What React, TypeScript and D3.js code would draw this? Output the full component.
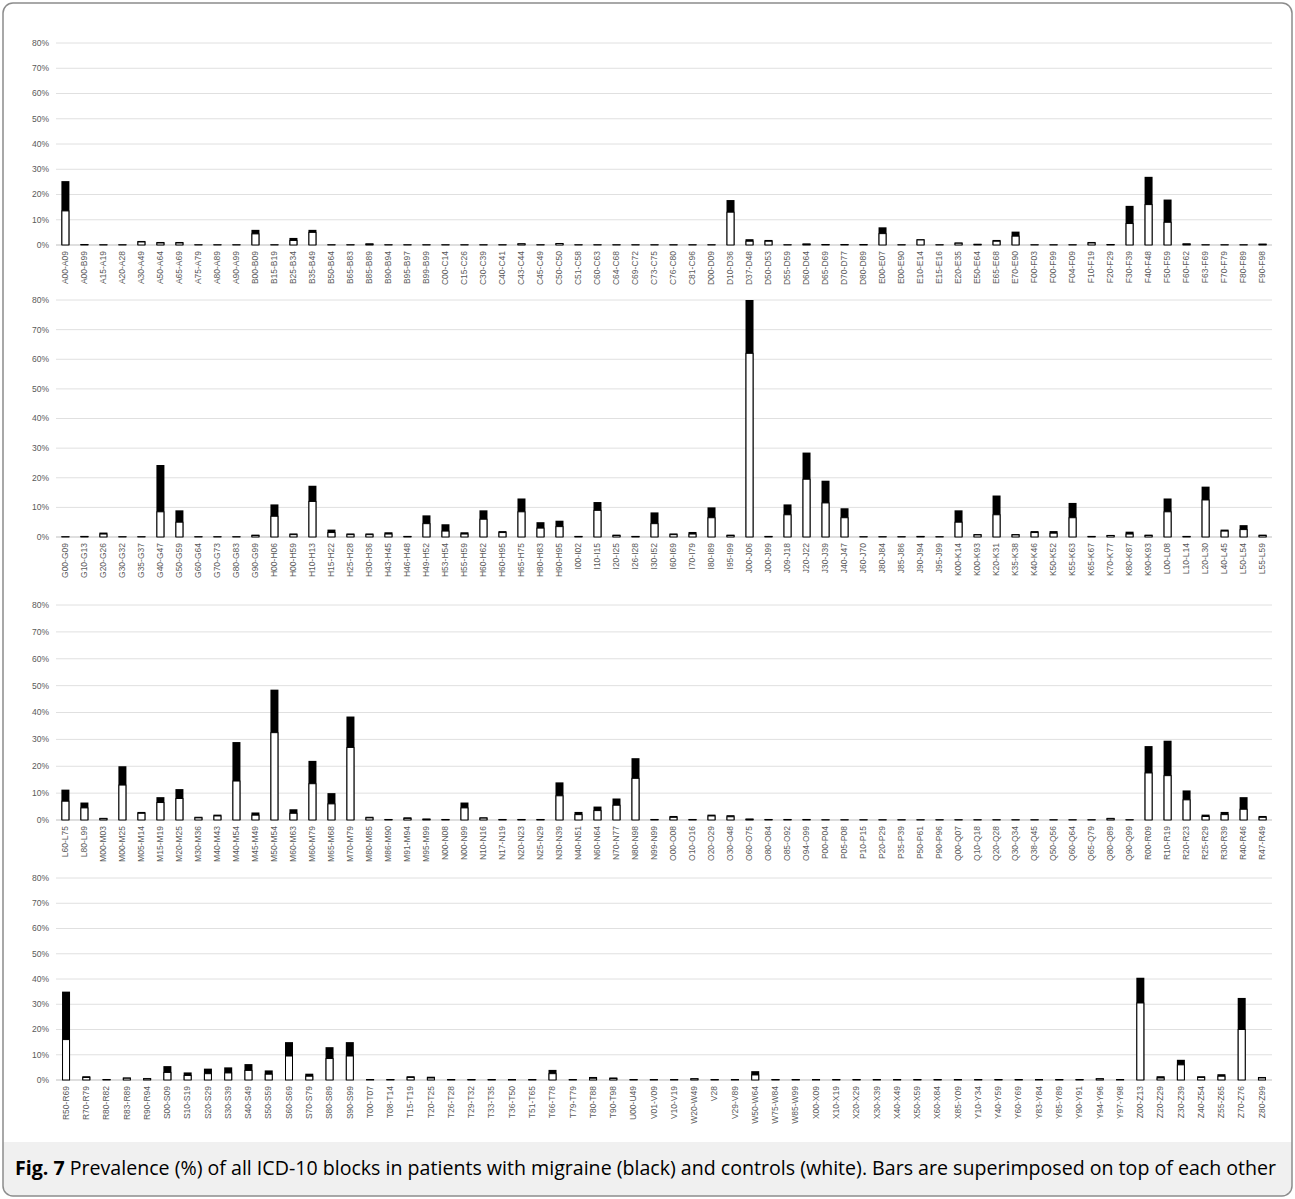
import React from "react";
import * as d3 from "d3";

// ICD-10 blocks, one array per panel
const cats1 = ["A00-A09","A00-B99","A15-A19","A20-A28","A30-A49","A50-A64","A65-A69","A75-A79","A80-A89","A90-A99","B00-B09","B15-B19","B25-B34","B35-B49","B50-B64","B65-B83","B85-B89","B90-B94","B95-B97","B99-B99","C00-C14","C15-C26","C30-C39","C40-C41","C43-C44","C45-C49","C50-C50","C51-C58","C60-C63","C64-C68","C69-C72","C73-C75","C76-C80","C81-C96","D00-D09","D10-D36","D37-D48","D50-D53","D55-D59","D60-D64","D65-D69","D70-D77","D80-D89","E00-E07","E00-E90","E10-E14","E15-E16","E20-E35","E50-E64","E65-E68","E70-E90","F00-F03","F00-F99","F04-F09","F10-F19","F20-F29","F30-F39","F40-F48","F50-F59","F60-F62","F63-F69","F70-F79","F80-F89","F90-F98"];
const migraine1 = [25.3,0.3,0.2,0.2,1.6,1.2,1.2,0.2,0.2,0.2,6,0.2,2.8,6,0.2,0.2,0.6,0.2,0.2,0.2,0.2,0.2,0.2,0.2,0.6,0.2,0.7,0.2,0.2,0.2,0.2,0.2,0.2,0.2,0.2,17.8,2.3,2,0.2,0.5,0.3,0.3,0.3,7,0.2,2.3,0.2,1,0.4,2,5.3,0.2,0.2,0.2,1.2,0.3,15.5,27,18,0.6,0.2,0.2,0.2,0.5];
const controls1 = [13.5,0.2,0.1,0.1,1.2,0.8,0.8,0.1,0.1,0.1,4.4,0.1,1.8,5,0.1,0.1,0.4,0.1,0.1,0.1,0.1,0.1,0.1,0.1,0.5,0.1,0.6,0.1,0.1,0.1,0.1,0.1,0.1,0.1,0.1,13,1.5,1.5,0.1,0.4,0.2,0.2,0.2,4.5,0.1,2,0.1,0.7,0.3,1.5,3.5,0.1,0.1,0.1,0.8,0.2,8.5,16,9,0.4,0.1,0.1,0.1,0.3];

const cats2 = ["G00-G09","G10-G13","G20-G26","G30-G32","G35-G37","G40-G47","G50-G59","G60-G64","G70-G73","G80-G83","G90-G99","H00-H06","H00-H59","H10-H13","H15-H22","H25-H28","H30-H36","H43-H45","H46-H48","H49-H52","H53-H54","H55-H59","H60-H62","H60-H95","H65-H75","H80-H83","H90-H95","I00-I02","I10-I15","I20-I25","I26-I28","I30-I52","I60-I69","I70-I79","I80-I89","I95-I99","J00-J06","J00-J99","J09-J18","J20-J22","J30-J39","J40-J47","J60-J70","J80-J84","J85-J86","J90-J94","J95-J99","K00-K14","K00-K93","K20-K31","K35-K38","K40-K46","K50-K52","K55-K63","K65-K67","K70-K77","K80-K87","K90-K93","L00-L08","L10-L14","L20-L30","L40-L45","L50-L54","L55-L59"];
const migraine2 = [0.2,0.3,1.5,0.2,0.2,24.3,9,0.2,0.2,0.2,0.8,11,1.2,17.3,2.5,1.2,1.2,1.6,0.3,7.3,4.3,1.6,9,2,13,5,5.5,0.3,11.8,0.8,0.3,8.3,1.2,1.7,10,0.8,80,0.3,11,28.5,19,9.7,0.2,0.2,0.2,0.3,0.2,9,1,14,1,2,2,11.5,0.3,0.7,1.8,0.8,13,0.3,17,2.5,4,0.8];
const controls2 = [0.1,0.2,1,0.1,0.1,8.5,5,0.1,0.1,0.1,0.5,7,0.8,12,1.5,0.8,0.8,1,0.2,4.5,2,1,6,1.5,8.5,3,3.5,0.2,9,0.5,0.2,4.5,0.8,1,6.5,0.5,62,0.2,7.5,19.5,11.5,6.5,0.1,0.1,0.1,0.2,0.1,5,0.7,7.5,0.7,1.5,1.3,6.5,0.2,0.5,1,0.5,8.5,0.2,12.5,2,2.5,0.5];

const cats3 = ["L60-L75","L80-L99","M00-M03","M00-M25","M05-M14","M15-M19","M20-M25","M30-M36","M40-M43","M40-M54","M45-M49","M50-M54","M60-M63","M60-M79","M65-M68","M70-M79","M80-M85","M86-M90","M91-M94","M95-M99","N00-N08","N00-N99","N10-N16","N17-N19","N20-N23","N25-N29","N30-N39","N40-N51","N60-N64","N70-N77","N80-N98","N99-N99","O00-O08","O10-O16","O20-O29","O30-O48","O60-O75","O80-O84","O85-O92","O94-O99","P00-P04","P05-P08","P10-P15","P20-P29","P35-P39","P50-P61","P90-P96","Q00-Q07","Q10-Q18","Q20-Q28","Q30-Q34","Q38-Q45","Q50-Q56","Q60-Q64","Q65-Q79","Q80-Q89","Q90-Q99","R00-R09","R10-R19","R20-R23","R25-R29","R30-R39","R40-R46","R47-R49"];
const migraine3 = [11.3,6.5,0.8,20,3,8.5,11.5,1.2,2,29,2.8,48.5,4,22,10,38.5,1.2,0.3,1,0.5,0.3,6.5,1,0.3,0.3,0.3,14,3,5,8,23,0.3,1.5,0.3,2,1.8,0.5,0.3,0.3,0.3,0.2,0.2,0.2,0.2,0.2,0.2,0.2,0.2,0.2,0.2,0.2,0.2,0.2,0.2,0.2,0.8,0.2,27.5,29.5,11,2,3,8.5,1.5];
const controls3 = [7,4.5,0.5,13,2.5,6.5,8,0.8,1.5,14.5,1.8,32.5,2.5,13.5,6,27,0.8,0.2,0.6,0.3,0.2,4.5,0.7,0.2,0.2,0.2,9,2,3.5,5.5,15.5,0.2,1,0.2,1.5,1.2,0.3,0.2,0.2,0.2,0.1,0.1,0.1,0.1,0.1,0.1,0.1,0.1,0.1,0.1,0.1,0.1,0.1,0.1,0.1,0.5,0.1,17.5,16.5,7.5,1.3,2,4,1];

const cats4 = ["R50-R69","R70-R79","R80-R82","R83-R89","R90-R94","S00-S09","S10-S19","S20-S29","S30-S39","S40-S49","S50-S59","S60-S69","S70-S79","S80-S89","S90-S99","T00-T07","T08-T14","T15-T19","T20-T25","T26-T28","T29-T32","T33-T35","T36-T50","T51-T65","T66-T78","T79-T79","T80-T88","T90-T98","U00-U49","V01-V09","V10-V19","W20-W49","V28","V29-V89","W50-W64","W75-W84","W85-W99","X00-X09","X10-X19","X20-X29","X30-X39","X40-X49","X50-X59","X60-X84","X85-Y09","Y10-Y34","Y40-Y59","Y60-Y69","Y83-Y84","Y85-Y89","Y90-Y91","Y94-Y96","Y97-Y98","Z00-Z13","Z20-Z29","Z30-Z39","Z40-Z54","Z55-Z65","Z70-Z76","Z80-Z99"];
const migraine4 = [35,1.5,0.3,1,0.8,5.5,3,4.5,5,6.3,3.8,15,2.5,13,15,0.3,0.3,1.5,1.3,0.3,0.3,0.3,0.3,0.3,4,0.3,1.2,1,0.3,0.3,0.3,0.7,0.3,0.3,3.5,0.3,0.3,0.3,0.3,0.3,0.3,0.3,0.3,0.3,0.3,0.3,0.3,0.3,0.3,0.3,0.3,0.7,0.3,40.5,1.5,8,1.5,2.3,32.5,1.2];
const controls4 = [16,1,0.2,0.7,0.5,3,1.8,2.5,2.8,3.8,2.3,9.5,1.5,8.5,9.5,0.2,0.2,1,0.8,0.2,0.2,0.2,0.2,0.2,2.5,0.2,0.7,0.6,0.2,0.2,0.2,0.5,0.2,0.2,2,0.2,0.2,0.2,0.2,0.2,0.2,0.2,0.2,0.2,0.2,0.2,0.2,0.2,0.2,0.2,0.2,0.5,0.2,30.5,0.8,6,1,1.5,20,0.8];

const yTicks = [0, 10, 20, 30, 40, 50, 60, 70, 80];

const panels = [
  { cats: cats1, mig: migraine1, ctl: controls1, top: 43, bottom: 245 },
  { cats: cats2, mig: migraine2, ctl: controls2, top: 300, bottom: 537 },
  { cats: cats3, mig: migraine3, ctl: controls3, top: 605, bottom: 820 },
  { cats: cats4, mig: migraine4, ctl: controls4, top: 878, bottom: 1080 },
];

const W = 1295;
const H = 1199;
const left = 56;
const right = 1272;
const font = "'Liberation Sans', Arial, sans-serif";

function Panel({ cats, mig, ctl, top, bottom }) {
  const x = d3.scaleBand().domain(cats).range([left, right]).paddingInner(0.57).paddingOuter(0.28);
  const y = d3.scaleLinear().domain([0, 80]).range([bottom, top]);
  const bw = 8;
  return (
    <g>
      {yTicks.map((t) => (
        <g key={t}>
          <line x1={left} x2={right} y1={y(t)} y2={y(t)} stroke={t === 0 ? "#bfbfbf" : "#e0e0e0"} strokeWidth={1} />
          <text x={49} y={y(t)} dy="0.35em" textAnchor="end" fontSize={8.5} fill="#595959" fontFamily={font}>{t}%</text>
        </g>
      ))}
      {cats.map((c, i) => {
        const cx = x(c) + x.bandwidth() / 2;
        return (
          <g key={c + i}>
            <rect x={cx - bw / 2} y={y(mig[i])} width={bw} height={y(0) - y(mig[i])} fill="#000" />
            <rect x={cx - bw / 2 + 0.5} y={y(ctl[i])} width={bw - 1} height={y(0) - y(ctl[i])} fill="#fff" stroke="#000" strokeWidth={1} />
            <text transform={`translate(${cx},${bottom + 6}) rotate(-90)`} dy="0.32em" textAnchor="end" fontSize={8.5} fill="#595959" fontFamily={font}>{c}</text>
          </g>
        );
      })}
    </g>
  );
}

export default function App() {
  return (
    <svg width={W} height={H} style={{ position: "absolute", left: 0, top: 0, background: "#fff" }}>
      <defs>
        <clipPath id="frame">
          <rect x={3} y={3} width={W - 6} height={H - 6} rx={10} />
        </clipPath>
      </defs>
      <rect x={3} y={1142} width={W - 6} height={54} fill="#f0f0f0" clipPath="url(#frame)" />
      <rect x={3} y={3} width={W - 6} height={H - 6} rx={10} fill="none" stroke="#8c8c8c" strokeWidth={1.5} />
      {panels.map((p, i) => (
        <Panel key={i} {...p} />
      ))}
      <text x={15} y={1175} fontSize={19.6} fill="#000" fontFamily="'Open Sans', sans-serif">
        <tspan fontWeight="bold">Fig. 7</tspan>
        <tspan> Prevalence (%) of all ICD-10 blocks in patients with migraine (black) and controls (white). Bars are superimposed on top of each other</tspan>
      </text>
    </svg>
  );
}
